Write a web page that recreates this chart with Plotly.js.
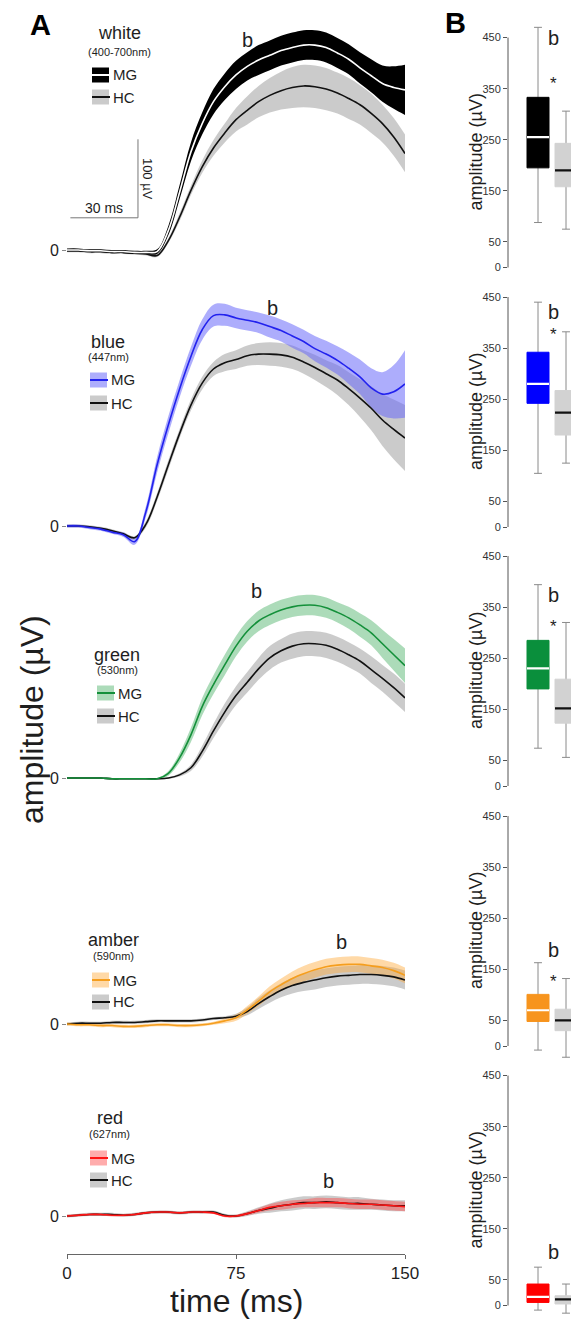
<!DOCTYPE html>
<html>
<head>
<meta charset="utf-8">
<script src="https://cdn.plot.ly/plotly-3.0.1.min.js"></script>
<style>html,body{margin:0;padding:0;background:#fff;}</style>
</head>
<body>
<div id="chart" style="width:571px;height:1320px;"></div>
<script>
// ---------------- DATA ----------------
const timeMs = [0,5,10,15,20,25,30,35,40,45,50,55,60,65,70,75,80,85,90,95,100,105,110,115,120,125,130,135,140,145,150];
const timeTicks = [0,75,150];
const groups = ['MG','HC'];

const whiteMgMean = [0,0,-1,-1,-2,-2,-3,-3,-2,25,74,125,161,189,208,223,234,242,248,254,258,261,261,258,251,243,232,222,212,207,204];
const whiteMgSd   = [2,2,2,2,2,2,2,2,3,6,9,12,14,16,17,18,18,19,19,19,19,19,19,19,19,19,20,21,23,27,32];
const whiteHcMean = [-1,-1,-2,-2,-3,-3,-4,-5,-7,12,42,76,106,130,149,166,178,189,197,203,207,209,208,205,200,193,185,174,161,144,123];
const whiteHcSd   = [2,2,2,2,2,2,2,2,2,3,5,6,8,10,12,15,18,20,22,24,26,27,27,27,26,26,25,25,24,24,24];

const blueMgMean = [0,0,-2,-4,-8,-11,-20,18,78,129,175,216,250,268,269,265,262,259,254,249,242,235,226,219,211,201,190,176,168,171,181];
const blueMgSd   = [2,2,2,2,2,3,4,7,10,11,11,12,13,14,14,13,13,13,14,14,15,15,16,17,18,20,22,25,28,34,43];
const blueHcMean = [0,0,-1,-3,-6,-10,-15,2,37,78,118,154,182,200,208,212,217,219,219,218,215,209,202,194,186,175,163,150,135,123,112];
const blueHcSd   = [2,2,2,2,2,2,2,4,5,6,6,7,8,9,11,12,13,14,15,15,15,15,16,17,19,21,24,28,33,38,42];

const greenMgMean = [0,0,0,0,-1,-1,-1,-1,-1,6,26,55,91,119,144,168,187,200,208,214,218,220,220,217,211,204,195,185,171,157,143];
const greenMgSd   = [1,1,1,1,1,1,1,1,1,3,6,9,11,12,13,13,13,13,13,13,13,13,13,13,13,14,15,16,18,20,22];
const greenHcMean = [0,0,0,0,-1,-1,-1,-1,-1,0,4,13,34,60,84,105,122,139,153,162,168,171,171,169,164,157,149,138,127,115,102];
const greenHcSd   = [1,1,1,1,1,1,1,1,1,1,2,4,7,9,11,12,13,14,15,15,16,16,16,16,16,16,16,17,17,18,18];

const amberMgMean = [0,-1,-1,-2,-2,-3,-3,-2,-1,-1,-2,-2,-1,1,4,8,18,29,41,50,58,64,69,73,75,76,76,74,72,68,62];
const amberMgSd   = [2,2,2,2,2,2,2,2,2,2,2,2,2,2,3,4,5,6,7,8,9,10,10,10,10,10,10,10,10,10,10];
const amberHcMean = [0,1,1,1,2,2,2,3,4,4,4,4,5,7,8,10,16,26,35,43,49,53,56,59,61,62,63,63,62,60,56];
const amberHcSd   = [2,2,2,2,2,2,2,2,2,2,2,2,2,2,2,3,5,7,8,9,10,11,12,12,12,12,12,12,12,12,12];

const redMgMean = [0,1,2,2,1,1,2,4,5,5,4,5,5,4,0,0,3,7,11,13,15,16,17,17,17,16,15,15,14,13,12];
const redMgSd   = [1.5,1.5,1.5,1.5,1.5,1.5,1.5,1.5,1.5,1.5,1.5,1.5,1.5,1.5,1.5,1.5,2,3,4,5,5,5,6,6,6,6,6,6,6,6,6];
const redHcMean = [0,1,2,2,2,1,2,4,5,5,4,5,5,5,1,0,3,7,10,13,15,17,17,18,17,16,16,15,14,13,13];
const redHcSd   = [2,2,2,2,2,2,2,2,2,2,2,2,2,2,2,2,3,4,6,7,8,8,8,8,8,8,8,7,7,7,7];

// box stats: [lower whisker, Q1, median, Q3, upper whisker] (µV)
const whiteBoxMG = [88,195,255,333,470];
const whiteBoxHC = [75,158,190,243,306];
const blueBoxMG  = [105,242,280,342,440];
const blueBoxHC  = [125,180,224,267,382];
const greenBoxMG = [74,190,230,285,394];
const greenBoxHC = [56,123,152,209,320];
const amberBoxMG = [-8,48,70,101,163];
const amberBoxHC = [-22,30,50,72,132];
const redBoxMG   = [-9,6,17,42,75];
const redBoxHC   = [-15,3,12,19,42];
const boxTicks = [0,50,150,250,350,450];

const scaleBarMs = 30;
const scaleBarUv = 100;

// ---------------- LAYOUT HELPERS ----------------
const W = 571, H = 1320;
const K = 0.785;          // px per µV, traces
const BK = 0.511;         // px per µV, box plots
const LX0 = 67, LX1 = 405;
const BOX_AX = 508, BOX_MG = 538, BOX_STEP = 28, BOX_W = 22;
const FONT = '"Liberation Sans", Arial, Helvetica, sans-serif';
const INK = '#1e1e1e';
const GREY_BAND = 'rgba(140,140,140,0.45)';
const HC_BOX = '#d2d2d2';
const px = x => x / W;
const py = y => 1 - y / H;

const rows = [
  {label:'white', nm:'(400-700nm)', mg:[whiteMgMean,whiteMgSd], hc:[whiteHcMean,whiteHcSd], box:[whiteBoxMG,whiteBoxHC],
   mgLine:'#ffffff', mgBand:'#000000', boxFill:'#000000', med:'#ffffff',
   zero:250, top:18, bottom:262, bL:[80,267],
   leg:{x:119,y:33,nmY:52,symX:92,mgY:75,hcY:97}, boxZero:267.5, bB:449, star:360},
  {label:'blue', nm:'(447nm)', mg:[blueMgMean,blueMgSd], hc:[blueHcMean,blueHcSd], box:[blueBoxMG,blueBoxHC],
   mgLine:'#2222ee', mgBand:'rgba(105,105,250,0.55)', boxFill:'#0000ff', med:'#ffffff',
   zero:526, top:290, bottom:548, bL:[91,278],
   leg:{x:108,y:342,nmY:357,symX:90,mgY:380,hcY:403}, boxZero:527, bB:421, star:376},
  {label:'green', nm:'(530nm)', mg:[greenMgMean,greenMgSd], hc:[greenHcMean,greenHcSd], box:[greenBoxMG,greenBoxHC],
   mgLine:'#14903a', mgBand:'rgba(70,175,100,0.45)', boxFill:'#0a8f3c', med:'#ffffff',
   zero:778, top:560, bottom:792, bL:[84,238],
   leg:{x:117,y:655,nmY:670,symX:97,mgY:693,hcY:716}, boxZero:786, bB:374, star:312},
  {label:'amber', nm:'(590nm)', mg:[amberMgMean,amberMgSd], hc:[amberHcMean,amberHcSd], box:[amberBoxMG,amberBoxHC],
   mgLine:'#f59e1e', mgBand:'rgba(255,170,60,0.45)', boxFill:'#f7941d', med:'#ffffff',
   zero:1024, top:880, bottom:1040, bL:[122,105],
   leg:{x:113,y:940,nmY:956,symX:92,mgY:980,hcY:1002}, boxZero:1046, bB:188, star:126},
  {label:'red', nm:'(627nm)', mg:[redMgMean,redMgSd], hc:[redHcMean,redHcSd], box:[redBoxMG,redBoxHC],
   mgLine:'#ff1414', mgBand:'rgba(255,70,70,0.45)', boxFill:'#ff0000', med:'#ffffff',
   zero:1216, top:1100, bottom:1254, bL:[116,45],
   leg:{x:110,y:1118,nmY:1134,symX:90,mgY:1158,hcY:1180}, boxZero:1305.5, bB:105, star:null}
];

const data = [], shapes = [], annotations = [];
const layout = {
  width: W, height: H, margin:{l:0,r:0,t:0,b:0},
  paper_bgcolor:'#ffffff', plot_bgcolor:'rgba(0,0,0,0)',
  showlegend:false, font:{family:FONT, color:INK},
  shapes: shapes, annotations: annotations
};

// every annotation is centred on its anchor point
function note(o) {
  annotations.push(Object.assign({showarrow:false, xanchor:'center', yanchor:'middle'}, o));
}

const sub = (m, sd) => m.map((v,k) => v - sd[k]);
const add = (m, sd) => m.map((v,k) => v + sd[k]);
const lineBase = {type:'scatter', mode:'lines', hoverinfo:'skip', showlegend:false};

rows.forEach((r, i) => {
  const s = i === 0 ? '' : String(i + 1);
  const xa = 'x' + s, ya = 'y' + s;
  const sp = {shape:'spline', smoothing:1};

  // bands
  data.push(Object.assign({}, lineBase, {x:timeMs, y:sub(r.hc[0], r.hc[1]), xaxis:xa, yaxis:ya, line:Object.assign({width:0}, sp)}));
  data.push(Object.assign({}, lineBase, {x:timeMs, y:add(r.hc[0], r.hc[1]), xaxis:xa, yaxis:ya, line:Object.assign({width:0}, sp), fill:'tonexty', fillcolor:GREY_BAND}));
  data.push(Object.assign({}, lineBase, {x:timeMs, y:sub(r.mg[0], r.mg[1]), xaxis:xa, yaxis:ya, line:Object.assign({width:0}, sp)}));
  data.push(Object.assign({}, lineBase, {x:timeMs, y:add(r.mg[0], r.mg[1]), xaxis:xa, yaxis:ya, line:Object.assign({width:0}, sp), fill:'tonexty', fillcolor:r.mgBand}));
  // means
  data.push(Object.assign({}, lineBase, {name:'HC', x:timeMs, y:r.hc[0], xaxis:xa, yaxis:ya, line:Object.assign({width:1.6, color:'#111111'}, sp)}));
  data.push(Object.assign({}, lineBase, {name:'MG', x:timeMs, y:r.mg[0], xaxis:xa, yaxis:ya, line:Object.assign({width:1.6, color:r.mgLine}, sp)}));

  layout['xaxis' + s] = i === 4 ? {
    domain:[px(LX0), px(LX1)], range:[0,150], anchor:ya, showline:true, linecolor:'#666', linewidth:1,
    ticks:'outside', ticklen:4, tickcolor:'#666', tickvals:timeTicks, tickfont:{size:17, color:INK},
    showgrid:false, zeroline:false, fixedrange:true
  } : {domain:[px(LX0), px(LX1)], range:[0,150], anchor:ya, visible:false, fixedrange:true};

  layout['yaxis' + s] = {
    domain:[py(r.bottom), py(r.top)],
    range:[-(r.bottom - r.zero) / K, (r.zero - r.top) / K],
    anchor:xa, tickvals:[0], ticktext:['0'], ticks:'outside', ticklen:4, tickcolor:'#888',
    showline:false, zeroline:false, showgrid:false, tickfont:{size:16, color:INK}, fixedrange:true
  };

  note({xref:xa, yref:ya, x:r.bL[0], y:r.bL[1], text:'b', font:{size:20, color:INK}});

  // legend block
  const L = r.leg;
  note({xref:'paper', yref:'paper', x:px(L.x), y:py(L.y), text:r.label, font:{size:18, color:INK}});
  note({xref:'paper', yref:'paper', x:px(L.x), y:py(L.nmY), text:r.nm, font:{size:11, color:INK}});
  [[L.mgY, r.mgBand, r.mgLine, 'MG'], [L.hcY, GREY_BAND, '#111111', 'HC']].forEach(([yy, fc, lc, txt]) => {
    shapes.push({type:'rect', xref:'paper', yref:'paper', x0:px(L.symX), x1:px(L.symX + 17), y0:py(yy + 7.5), y1:py(yy - 7.5), fillcolor:fc, line:{width:0}});
    shapes.push({type:'line', xref:'paper', yref:'paper', x0:px(L.symX), x1:px(L.symX + 18), y0:py(yy), y1:py(yy), line:{color:lc, width:2}});
    note({xref:'paper', yref:'paper', x:px(L.symX + 19), y:py(yy), text:txt, xanchor:'left', font:{size:15, color:INK}});
  });

  // ---------- box panel ----------
  const bs = String(i + 6);
  const bx = 'x' + bs, by = 'y' + bs;
  const [mLo, mQ1, mMed, mQ3, mHi] = r.box[0];
  const [hLo, hQ1, hMed, hQ3, hHi] = r.box[1];
  const bw = BOX_W / BOX_STEP;
  const boxBase = {type:'box', xaxis:bx, yaxis:by, width:bw, boxpoints:false, hoverinfo:'skip', showlegend:false};
  // whiskers
  data.push(Object.assign({}, boxBase, {x:[0,1], q1:[mMed,hMed], median:[mMed,hMed], q3:[mMed,hMed],
    lowerfence:[mLo,hLo], upperfence:[mHi,hHi], whiskerwidth:0.36, line:{color:'#8a8a8a', width:1}, fillcolor:'rgba(0,0,0,0)'}));
  // boxes
  data.push(Object.assign({}, boxBase, {name:'MG', x:[0], q1:[mQ1], median:[mMed], q3:[mQ3], lowerfence:[mQ1], upperfence:[mQ3],
    whiskerwidth:0, line:{color:r.boxFill, width:1}, fillcolor:r.boxFill}));
  data.push(Object.assign({}, boxBase, {name:'HC', x:[1], q1:[hQ1], median:[hMed], q3:[hQ3], lowerfence:[hQ1], upperfence:[hQ3],
    whiskerwidth:0, line:{color:HC_BOX, width:1}, fillcolor:HC_BOX}));
  // medians
  data.push({type:'scatter', mode:'markers', xaxis:bx, yaxis:by, x:[0,1], y:[mMed,hMed], hoverinfo:'skip', showlegend:false,
    marker:{symbol:'line-ew', size:BOX_W / 1.4, color:[r.med,'#111111'], line:{width:2.2, color:[r.med,'#111111']}}});

  layout['xaxis' + bs] = {domain:[px(BOX_AX), 1], range:[-(BOX_MG - BOX_AX) / BOX_STEP, (W - BOX_MG) / BOX_STEP], anchor:by, visible:false, fixedrange:true};
  layout['yaxis' + bs] = {
    domain:[Math.max(0, py(r.boxZero + 28 * BK)), py(r.boxZero - 480 * BK)], range:[-28, 480], anchor:bx,
    tickvals:boxTicks, ticks:'outside', ticklen:4, tickcolor:'#555', showline:false, zeroline:false, showgrid:false,
    tickfont:{size:11, color:'#333'}, fixedrange:true
  };
  shapes.push({type:'line', xref:bx + ' domain', x0:0, x1:0, yref:by, y0:0, y1:450, line:{color:'#555', width:1}});
  note({xref:'paper', yref:by, x:px(476), y:225, text:'amplitude (µV)', textangle:-90, font:{size:18, color:INK}});
  note({xref:bx, yref:by, x:0.57, y:r.bB, text:'b', font:{size:20, color:INK}});
  if (r.star !== null) note({xref:bx, yref:by, x:0.57, y:r.star, text:'*', font:{size:17, color:INK}});
});

// scale bar in row 1 axes
const sbX1 = 31.5, sbY0 = 41;
shapes.push({type:'line', xref:'x', yref:'y', x0:sbX1 - scaleBarMs, x1:sbX1, y0:sbY0, y1:sbY0, line:{color:'#777', width:1}});
shapes.push({type:'line', xref:'x', yref:'y', x0:sbX1, x1:sbX1, y0:sbY0, y1:sbY0 + scaleBarUv, line:{color:'#777', width:1}});
note({xref:'x', yref:'y', x:sbX1 - scaleBarMs / 2, y:sbY0 + 13, text:scaleBarMs + ' ms', font:{size:14, color:INK}});
note({xref:'x', yref:'y', x:sbX1 + 4.3, y:sbY0 + scaleBarUv / 2, text:scaleBarUv + ' µV', textangle:90, font:{size:13, color:INK}});

// big titles and panel letters
note({xref:'paper', yref:'paper', x:px(32), y:py(720), text:'amplitude (µV)', textangle:-90, font:{size:32, color:INK}});
note({xref:'paper', yref:'paper', x:px(236), y:py(1301), text:'time (ms)', font:{size:32, color:INK}});
note({xref:'paper', yref:'paper', x:px(41), y:py(25), text:'<b>A</b>', font:{size:29, color:'#000'}});
note({xref:'paper', yref:'paper', x:px(456), y:py(23), text:'<b>B</b>', font:{size:29, color:'#000'}});

Plotly.newPlot('chart', data, layout, {staticPlot:true, displayModeBar:false});
</script>
</body>
</html>
